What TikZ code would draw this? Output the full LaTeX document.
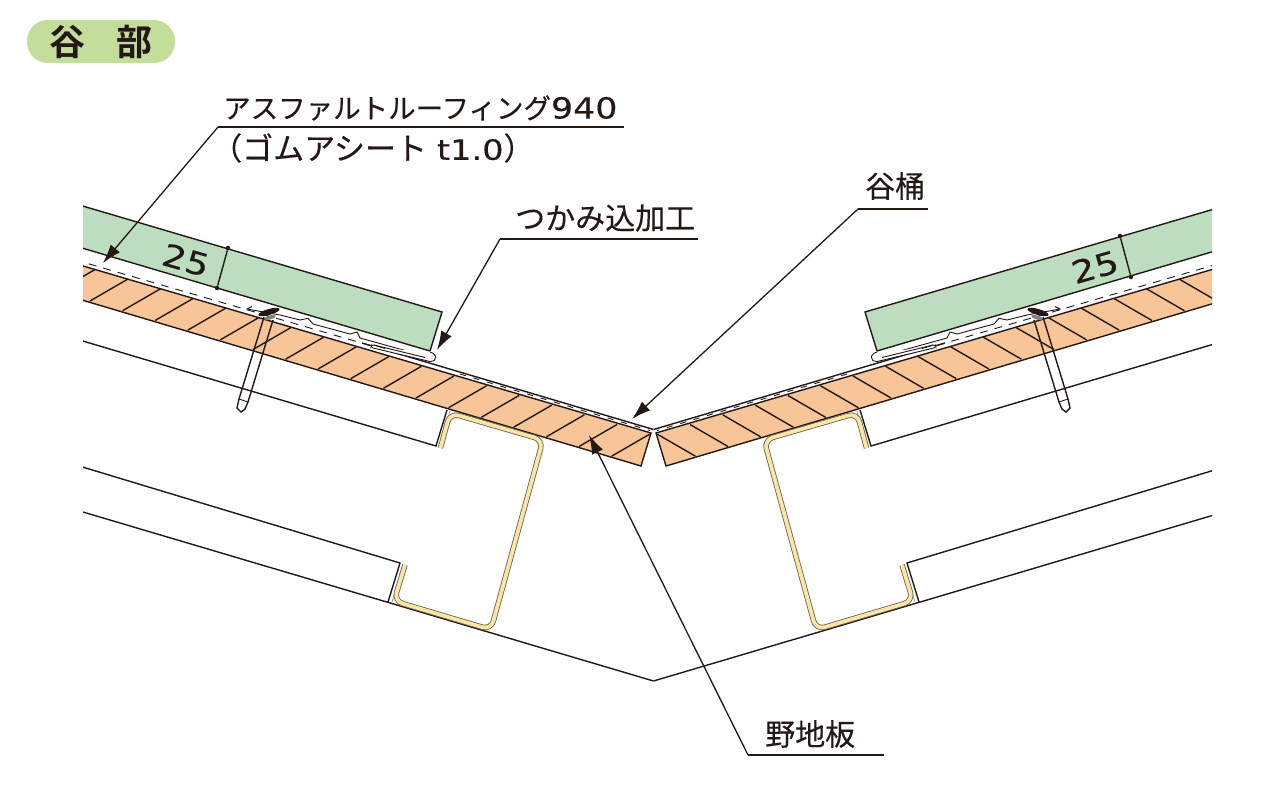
\documentclass[tikz,border=0pt]{standalone}
\usepackage{fontspec}
\usetikzlibrary{arrows.meta}
\setmainfont{Noto Sans CJK JP}[FakeBold=0.3]
\newfontfamily\tabfont{Noto Sans CJK JP Bold}
\newfontfamily\numfont[FakeStretch=1.2,FakeBold=0.4]{DejaVu Sans}
\definecolor{boardgreen}{HTML}{BDDDC0}
\definecolor{plankorange}{HTML}{F7C598}
\definecolor{channelyellow}{HTML}{F9E6A3}
\definecolor{tabgreen}{HTML}{C2DE9A}
\definecolor{inkblack}{HTML}{231815}
\tikzset{
  ink/.style={draw=inkblack,line width=1.4pt},
  thin ink/.style={draw=inkblack,line width=0.9pt},
  leader/.style={draw=inkblack,line width=1.3pt,-{Latex[length=19pt,width=12pt]}},
  rule/.style={draw=inkblack,line width=1.3pt},
  label/.style={inner sep=0pt,anchor=west,text=inkblack,font=\fontsize{30}{30}\selectfont},
  dim label/.style={inner sep=0pt,text=inkblack,font=\fontsize{31}{31}\numfont},
  dim dot/.style={circle,fill=inkblack,inner sep=0pt,minimum size=4.5pt},
}
\newcommand{\roofside}{%
  \fill[boardgreen] (60,199.3) -- (442,312) -- (430,351) -- (60,241.5) -- cycle;
  \draw[ink] (60,199.3) -- (442,312) -- (430,351);
  \draw[ink] (60,241.5) -- (430,351);
  \fill[plankorange] (60,259.2) -- (651,433) -- (641,466) -- (60,293.5) -- cycle;
  \foreach \i in {-1,...,16}
    \draw[ink] ({90+32.6*\i},{301+9.7*\i}) -- ({128+32.6*\i},{279+9.7*\i});
  \fill[white] (60,259.2) -- (60,293.5) -- (70,296) -- (70,262) -- cycle;
  \draw[ink] (60,259.2) -- (651,433) -- (641,466) -- (60,293.5);
  \draw[thin ink,dash pattern=on 8pt off 7pt] (60,255.5) -- (372,346);
  \draw[thin ink,dash pattern=on 6pt off 8pt] (460,374) -- (650,430.5);
  \draw[ink] (362,343) -- (653.5,429.5);
  % cleat with two ribs
  \draw[thin ink] (252,306.5) -- (247,309) -- (280,315) -- (300,320) -- (308,318.3) -- (313,324)
    -- (350,334) -- (357,332) -- (360,338) -- (425,356);
  \draw[thin ink,fill=white,rounded corners=2pt] (385,348.5) -- (372,344.5) -- (371,347.5) -- (432,362)
    -- (436,359) -- (435,354) -- (430,352);
  \draw[thin ink] (374,345) -- (425,357.5);
  % nail
  \fill[white] (239,399) -- (248,402) -- (257,372) -- (247,369) -- cycle;
  \draw[ink] (264,317) -- (239,399) -- (237,408) -- (241,412) -- (245,409) -- (248,402) -- (273,320);
  \draw[thin ink] (239,399) -- (248,402);
  \fill[inkblack] (269,312) ellipse [x radius=11,y radius=3,rotate=16];
  \fill[gray] (270,317.5) ellipse [x radius=6,y radius=2,rotate=16];
  % rafters
  \draw[ink] (60,334.2) -- (436,446) -- (447,410);
  \draw[ink] (60,460.2) -- (400,563) -- (388,602);
  \draw[ink] (60,505.2) -- (653.5,681);
  \draw[gray,line width=0.6pt] (403,564) -- (392,602);
  \draw[gray,line width=0.6pt] (450,411) -- (439.5,446);
  % channel
  \draw[draw=inkblack!70,line width=5.4pt,line cap=butt,rounded corners=9pt]
    (440.5,448) -- (450,413) -- (543,440) -- (491,629.7) -- (394,601) -- (405,565);
  \draw[draw=channelyellow,line width=3.8pt,line cap=butt,rounded corners=9pt]
    (440.5,448) -- (450,413) -- (543,440) -- (491,629.7) -- (394,601) -- (405,565);
}
\begin{document}
\begin{tikzpicture}[x=1pt,y=-1pt]
\useasboundingbox (0,0) rectangle (1280,807);

\begin{scope}
  \clip (83,0) rectangle (700,807);
  \roofside
\end{scope}
\begin{scope}[xshift=1307pt,xscale=-1]
  \clip (95,0) rectangle (700,807);
  \roofside
\end{scope}

\node[fill=tabgreen,rounded corners=21pt,minimum width=148pt,minimum height=43pt,inner sep=0pt,
  font=\fontsize{36}{36}\tabfont,text=inkblack] (tab) at (101,41.5) {谷\hspace{32pt}部};

\node[dim dot] (dim a top) at (228,248) {};
\node[dim dot] (dim a bottom) at (217,288) {};
\draw[ink] (dim a top) -- (dim a bottom);
\node[dim label,rotate=-16] (dim a) at (186,260) {25};
\node[dim dot] (dim b top) at (1120,236) {};
\node[dim dot] (dim b bottom) at (1131,277) {};
\draw[ink] (dim b top) -- (dim b bottom);
\node[dim label,rotate=16] (dim b) at (1095,267) {25};

\node[label,font=\fontsize{27.5}{30}\selectfont] (sheet top) at (223,108) {アスファルトルーフィング{\fontsize{29}{30}\numfont 940}};
\node[label,font=\fontsize{31}{31}\selectfont] (sheet bottom) at (211,148) {（ゴムアシート\hspace{10pt}{\fontsize{28}{30}\numfont t1.0}）};
\coordinate (sheet elbow) at (218,127);
\coordinate (sheet end) at (624,127);
\coordinate (sheet tip) at (103,263);
\draw[rule] (sheet end) -- (sheet elbow);
\draw[leader] (sheet elbow) -- (sheet tip);

\node[label] (grip) at (515,218) {つかみ込加工};
\coordinate (grip elbow) at (500,239);
\coordinate (grip end) at (698,239);
\coordinate (grip tip) at (437,350);
\draw[rule] (grip end) -- (grip elbow);
\draw[leader] (grip elbow) -- (grip tip);

\node[label] (gutter) at (865,186) {谷桶};
\coordinate (gutter elbow) at (858,209);
\coordinate (gutter end) at (928,209);
\coordinate (gutter tip) at (632,419);
\draw[rule] (gutter end) -- (gutter elbow);
\draw[leader] (gutter elbow) -- (gutter tip);

\node[label] (sheathing) at (765,734) {野地板};
\coordinate (sheathing elbow) at (748,755);
\coordinate (sheathing end) at (884,755);
\coordinate (sheathing tip) at (589,435);
\draw[rule] (sheathing end) -- (sheathing elbow);
\draw[leader] (sheathing elbow) -- (sheathing tip);

\end{tikzpicture}
\end{document}
